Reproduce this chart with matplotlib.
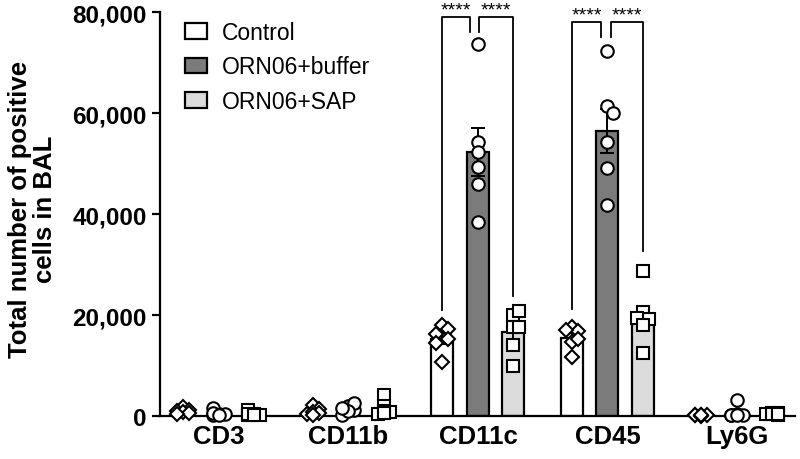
import numpy as np
import matplotlib
matplotlib.use("Agg")
import matplotlib.pyplot as plt
from matplotlib.patches import Patch
from matplotlib.ticker import FuncFormatter

plt.rcParams['font.family'] = ['Liberation Sans', 'DejaVu Sans']

# ---------------- data ----------------
categories = ["CD3", "CD11b", "CD11c", "CD45", "Ly6G"]
groups = ["Control", "ORN06+buffer", "ORN06+SAP"]

control = [
    [1800, 1200, 900, 700, 500, 400],            # CD3
    [2200, 1300, 300, 800, 500, 100],            # CD11b
    [18000, 17200, 16200, 15200, 14500, 10700],  # CD11c
    [17600, 16800, 17000, 14650, 15250, 11700],  # CD45
    [200, 150, 100, 250, 50, 100],               # Ly6G
]
buffer = [
    [400, 300, 1500, 200, 600, 100],
    [2000, 1200, 2600, 200, 900, 1500],
    [73600, 54300, 52300, 49300, 45900, 38400],
    [72300, 61400, 60000, 54250, 49100, 41800],
    [3200, 300, 200, 100, 250, 150],
]
sap = [
    [300, 250, 1200, 200, 400, 150],
    [4200, 2000, 800, 300, 1000, 500],
    [20000, 20800, 17600, 17600, 14000, 9900],
    [28700, 20600, 19200, 19400, 18000, 12500],
    [600, 500, 400, 300, 200, 350],
]
yticks = [0, 20000, 40000, 60000, 80000]
sig_label = "****"

# ---------------- style ----------------
bar_colors = ["#ffffff", "#7b7b7b", "#dcdcdc"]
markers = ["D", "o", "s"]
msizes = [7.0, 9.0, 8.5]
offset = 0.274
width = 0.17
PX_X = 1 / 129.5   # data units per pixel (x)
PX_Y = 198.0       # data units per pixel (y)

fig = plt.figure(figsize=(8, 4.6), dpi=100)
ax = fig.add_axes([0.2, 0.0935, 0.794, 0.878])

x = np.arange(len(categories))


def swarm(vals, step=6.0, thr=9.0):
    placed = []
    offs = []
    cands = [0, 1, -1]
    for v in vals:
        yp = v / PX_Y
        best, bestd = 0, -1
        for c in cands:
            xp = c * step
            d = min([np.hypot(xp - px, yp - py) for px, py in placed] or [1e9])
            if d >= thr:
                best = c
                bestd = d
                break
            if d > bestd:
                best, bestd = c, d
        placed.append((best * step, yp))
        offs.append(best * step * PX_X)
    return np.array(offs)


for gi, data in enumerate([control, buffer, sap]):
    pos = x + (gi - 1) * offset
    means = np.array([np.mean(d) for d in data])
    sems = np.array([np.std(d, ddof=1) / np.sqrt(len(d)) for d in data])
    ax.bar(pos, means, width=width, color=bar_colors[gi], edgecolor="black",
           linewidth=1.6, zorder=1)
    ax.errorbar(pos, means, yerr=sems, fmt="none", ecolor="black",
                elinewidth=1.4, capsize=5, capthick=1.4, zorder=2)
    for ci, d in enumerate(data):
        offs = swarm(d)
        ax.plot(pos[ci] + offs, d, linestyle="none", marker=markers[gi],
                markersize=msizes[gi], markerfacecolor="white",
                markeredgecolor="black", markeredgewidth=1.5, zorder=3,
                clip_on=False)

# significance brackets
def bracket(x1, x2, y1, y2, top, ytext):
    ax.plot([x1, x1, x2, x2], [y1, top, top, y2], color="black", lw=1.3,
             clip_on=False, zorder=4)
    ax.text((x1 + x2) / 2, ytext, sig_label, ha="center", va="center",
            fontsize=14, clip_on=False)

c = 2
bracket(c - offset, c - 0.062, 21000, 76000, 79000, 80500)
bracket(c + 0.008, c + offset, 76000, 23800, 79000, 80500)
c = 3
bracket(c - offset, c - 0.05, 21200, 75000, 78000, 79500)
bracket(c + 0.027, c + offset, 75000, 32700, 78000, 79500)

ax.set_xlim(-0.455, 4.45)
ax.set_ylim(0, 80000)
ax.set_yticks(yticks)
ax.yaxis.set_major_formatter(FuncFormatter(lambda v, p: f"{int(v):,}"))
ax.set_xticks(x)
ax.set_xticklabels(categories, fontsize=18.5, fontweight="bold")
ax.tick_params(axis="x", length=0, pad=6)
ax.tick_params(axis="y", length=6, width=1.6, labelsize=17.5, pad=3.5)
for lab in ax.get_yticklabels():
    lab.set_fontweight("bold")

for s in ["top", "right"]:
    ax.spines[s].set_visible(False)
ax.spines["left"].set_linewidth(1.6)
ax.spines["bottom"].set_linewidth(1.6)

fig.text(0.041, 0.545, "Total number of positive\ncells in BAL", rotation=90,
         ha="center", va="center", fontsize=18.5, fontweight="bold",
         linespacing=1.05)

handles = [Patch(facecolor=bar_colors[i], edgecolor="black", linewidth=1.6)
           for i in range(3)]
fig.legend(handles, groups, loc="upper left",
           bbox_to_anchor=(185 / 800, 1 - 22 / 460),
           bbox_transform=fig.transFigure, frameon=False, fontsize=16.5,
           handlelength=0.95, handleheight=0.65, handletextpad=0.65,
           labelspacing=0.5, borderpad=0, borderaxespad=0)

fig.savefig("out.png", dpi=100)
